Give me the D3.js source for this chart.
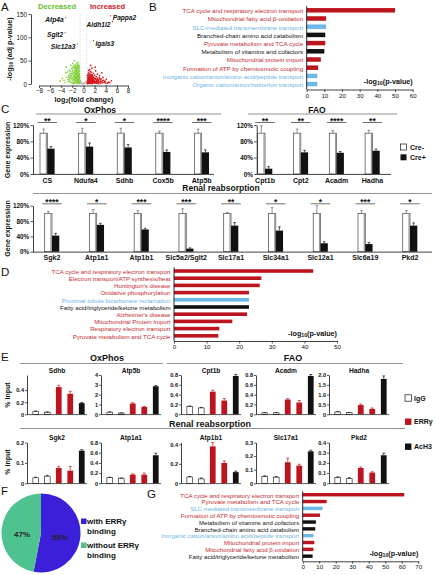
<!DOCTYPE html>
<html><head><meta charset="utf-8">
<script src="https://cdn.jsdelivr.net/npm/d3@7"></script>
<style>
body{margin:0;background:#fff}
svg{display:block}
text{font-family:"Liberation Sans",Arial,Helvetica,sans-serif}
</style></head><body>
<svg id="fig" width="435" height="575"></svg>
<script>
// ---------------- DATA ----------------
// A: volcano plot points [log2FC, -log10 adj p]
const volcanoDown = [[-0.7,2],[-0.8,4],[-0.9,6],[-1.0,3],[-1.1,8],[-0.75,10],[-0.85,12],[-0.95,15],[-1.2,5],[-1.3,11],
[-1.4,7],[-1.5,14],[-1.6,9],[-1.7,18],[-1.8,4],[-0.7,16],[-0.8,20],[-0.9,24],[-1.0,18],[-1.1,22],
[-1.2,26],[-1.3,17],[-1.4,21],[-1.5,25],[-1.6,28],[-1.9,12],[-2.0,8],[-2.1,16],[-2.2,22],[-2.4,6],
[-2.5,13],[-2.6,19],[-2.8,10],[-3.0,15],[-3.2,24],[-3.5,8],[-0.75,28],[-0.85,32],[-1.0,30],[-1.15,35],
[-1.3,31],[-1.45,38],[-1.7,34],[-1.9,29],[-2.1,33],[-2.3,40],[-2.6,30],[-1.05,42],[-0.9,38],[-1.25,45],
[-0.72,6],[-0.78,1],[-0.88,9],[-0.98,13],[-1.08,1.5],[-1.18,3],[-1.35,2],[-1.55,4],[-1.75,1],[-2.0,2],
[-0.7,13],[-0.82,17],[-0.92,21],[-1.02,25],[-1.12,12],[-1.22,16],[-1.32,20],[-1.42,24],[-1.62,13],[-1.82,23],
[-2.2,3],[-2.7,5],[-3.3,3],[-3.8,12],[-4.2,6],[-2.9,26],[-2.4,28],[-1.95,44],[-3.1,36],[-1.6,50],
[-0.74,22],[-0.84,26],[-0.94,30],[-1.04,34],[-1.14,27],[-1.24,33],[-1.34,36],[-1.5,41],[-0.8,36],[-0.95,46],
[-0.73,4],[-0.83,7],[-0.93,3],[-1.03,9],[-1.13,5],[-1.23,10],[-1.33,6],[-1.43,12],[-1.53,8],[-1.63,3],
[-0.76,19],[-0.86,15],[-0.96,19],[-1.06,21],[-1.16,19],[-1.26,23],[-1.36,27],[-1.46,30],[-1.56,22],[-1.66,25],
[-1.76,10],[-1.86,16],[-1.96,21],[-2.06,26],[-2.16,11],[-2.26,18],[-2.36,14],[-2.46,23],[-2.56,9],[-2.66,15],
[-0.71,10],[-0.81,13],[-0.91,11],[-1.01,15],[-1.11,17],[-1.21,13],[-1.31,14],[-1.41,16],[-1.51,19],[-1.61,17],
[-0.79,40],[-0.89,34],[-0.99,39],[-1.09,37],[-1.19,40],[-1.29,29],[-1.39,33],[-1.59,36],[-1.79,39],[-1.99,35]];
const volcanoUp = [[0.7,1],[0.8,3],[0.9,5],[1.0,2],[1.1,7],[1.2,4],[1.3,9],[1.4,6],[1.5,3],[1.6,11],
[0.75,8],[0.85,12],[0.95,14],[1.05,10],[1.15,13],[1.25,16],[1.35,12],[1.45,15],[1.55,8],[1.65,5],
[1.7,2],[1.8,9],[1.9,13],[2.0,6],[2.1,3],[2.2,10],[2.3,16],[2.4,7],[2.5,12],[2.6,4],
[2.7,9],[2.8,14],[3.0,6],[3.2,11],[3.4,3],[3.6,8],[3.8,5],[4.1,10],[4.5,4],[5.0,7],
[0.72,18],[0.82,21],[0.92,24],[1.02,19],[1.12,22],[1.22,27],[1.32,20],[1.42,25],[1.6,18],[1.8,23],
[2.0,19],[2.2,28],[2.5,21],[2.9,18],[3.3,24],[1.1,31],[1.5,34],[0.9,29],[2.1,36],[1.3,40],
[0.7,5],[0.78,11],[0.88,1.5],[0.98,7],[1.08,4],[1.18,1],[1.28,6],[1.38,2],[1.48,10],[1.58,1],
[1.75,14],[1.95,4],[2.15,12],[2.35,2],[2.55,8],[2.75,1],[2.95,11],[3.1,2],[3.5,14],[4.0,2],
[0.76,14],[0.86,9],[0.96,17],[1.06,15],[1.16,18],[1.26,11],[1.36,14],[1.46,18],[1.56,20],[1.7,16],
[0.73,3],[0.83,6],[0.93,2],[1.03,5],[1.13,2.5],[1.23,7],[1.33,3.5],[1.43,8],[1.53,5],[1.63,7],
[1.73,4],[1.83,6],[1.93,8],[2.03,2],[2.13,5],[2.23,3],[2.33,6],[2.43,1.5],[2.53,5],[2.63,7],
[0.77,6],[0.87,4],[0.97,10],[1.07,12],[1.17,9],[1.27,13],[1.37,10],[1.47,5],[1.57,13],[1.67,9],
[2.8,4],[3.0,9],[3.2,5],[3.4,7],[3.7,3],[3.9,6],[4.3,2],[4.7,3],[1.85,11],[2.45,10]];
const volcanoNS = [[-0.5,1],[-0.3,2],[-0.1,0.5],[0.1,1.5],[0.3,0.8],[0.5,2.5],[-0.6,3],[0.6,4],[-0.4,5],[0.2,3],[0,1],[-0.2,0.3],[0.4,6],[-0.55,7]];
const volcanoGenes = ["Atp4a","Sglt2","Slc12a3","Aldh1l2","Pappa2","Igals3"];
const volcanoGeneFC = [-3.2,-3.3,-1.1,5.2,4.9,1.8];
const volcanoGeneP = [142,110,86,134,146,93];

// B: pathway enrichment
const bTerms = ["TCA cycle and respiratory electron transport","Mitochondrial fatty acid β-oxidation","SLC-mediated transmembrane transport","Branched-chain amino acid catabolism","Pyruvate metabolism and TCA cycle","Metabolism of vitamins and cofactors","Mitochondrial protein import","Formation of ATP by chemiosmotic coupling","Inorganic cation/anion/amino acid/peptide transport","Organic cation/anion/zwitterion transport"];
const bValues = [50,11,11,10.5,10.5,10,8,6.5,6,6];
const bGroups = ["mito","mito","slc","other","mito","other","mito","mito","slc","slc"];
const bTicks = [0,10,20,30,40,50,60];

// C: gene expression (% of Cre-)
const cOxGenes = ["CS","Ndufa4","Sdhb","Cox5b","Atp5b"];
const cOxCreNeg = [100,100,100,100,100];
const cOxCrePos = [62,67,65,54,53];
const cOxErrNeg = [10,12,12,5,10];
const cOxErrPos = [5,9,7,5,6];
const cOxStars = ["**","*","*","****","***"];
const cFaoGenes = ["Cpt1b","Cpt2","Acadm","Hadha"];
const cFaoCreNeg = [100,100,100,100];
const cFaoCrePos = [13,53,52,57];
const cFaoErrNeg = [18,10,6,7];
const cFaoErrPos = [5,5,3,4];
const cFaoStars = ["**","**","****","**"];
const cRenGenes = ["Sgk2","Atp1a1","Atp1b1","Slc5a2/Sglt2","Slc17a1","Slc34a1","Slc12a1","Slc6a19","Pkd2"];
const cRenCreNeg = [100,100,100,100,100,100,100,100,100];
const cRenCrePos = [42,70,58,8,68,55,22,20,68];
const cRenErrNeg = [5,10,7,12,2,15,20,7,7];
const cRenErrPos = [6,4,3,2,8,10,4,4,7];
const cRenStars = ["****","*","***","***","**","*","*","***","*"];
const cTicks = [0,40,80,120];

// D
const dTerms = ["TCA cycle and respiratory electron transport","Electron transport/ATP synthesis/heat","Huntington's disease","Oxidative phosphorylation","Proximal tubule bicarbonate reclamation","Fatty acid/triglyceride/ketone metabolism","Alzheimer's disease","Mitochondrial Protein Import","Respiratory electron transport","Pyruvate metabolism and TCA cycle"];
const dValues = [42.7,26.8,26.3,23,23,23,22.4,17.9,13.9,13.6];
const dGroups = ["mito","mito","mito","mito","slc","other","mito","mito","mito","mito"];
const dTicks = [0,10,20,30,40,50];

// E: ChIP (% input) IgG, IgG, ERRγ, ERRγ, AcH3
const eSeries = ["IgG","IgG","ERRγ","ERRγ","AcH3"];
const eTopGenes = ["Sdhb","Atp5b","Cpt1b","Acadm","Hadha"];
const eTopValues = [[0.05,0.035,0.45,0.34,0.185],[0.22,0.13,1.1,0.75,2.85],[0.16,0.13,0.46,0.28,0.78],[0.03,0.03,0.30,0.24,0.78],[0.12,0.08,0.47,0.27,1.8]];
const eTopErrors = [[0.005,0.005,0.03,0.04,0.01],[0.03,0.02,0.08,0.05,0.08],[0.01,0.01,0.03,0.04,0.03],[0.005,0.005,0.02,0.04,0.03],[0.02,0.01,0.05,0.05,0.15]];
const eTopTicks = [[0,0.2,0.4],[0,1,2,3,4],[0,0.2,0.4,0.6,0.8],[0,0.2,0.4,0.6,0.8],[0,0.5,1.0,1.5,2.0]];
const eTopTickLabels = [["0","0.2","0.4"],["0","1","2","3","4"],["0","0.2","0.4","0.6","0.8"],["0","0.2","0.4","0.6","0.8"],["0","0.5","1.0","1.5","2.0"]];
const eTopMax = [0.65,4,0.8,0.8,2.0];
const eBotGenes = ["Sgk2","Atp1a1","Atp1b1","Slc17a1","Pkd2"];
const eBotValues = [[0.027,0.035,0.075,0.062,0.16],[0.11,0.10,0.17,0.17,0.55],[0.065,0.045,0.38,0.21,0.115],[0.05,0.045,0.155,0.13,0.235],[0.055,0.045,0.15,0.105,0.275]];
const eBotErrors = [[0.003,0.004,0.008,0.02,0.005],[0.01,0.005,0.015,0.03,0.04],[0.005,0.01,0.04,0.02,0.01],[0.005,0.004,0.03,0.01,0.008],[0.008,0.01,0.01,0.008,0.02]];
const eBotTicks = [[0,0.1,0.2],[0,0.2,0.4,0.6,0.8],[0,0.2,0.4],[0,0.1,0.2,0.3],[0,0.1,0.2,0.3,0.4]];
const eBotTickLabels = [["0","0.1","0.2"],["0","0.2","0.4","0.6","0.8"],["0","0.2","0.4"],["0","0.1","0.2","0.3"],["0","0.1","0.2","0.3","0.4"]];
const eBotMax = [0.2,0.8,0.42,0.3,0.4];

// F
const fLabels = ["with ERRγ binding","without ERRγ binding"];
const fValues = [53,47];

// G
const gTerms = ["TCA cycle and respiratory electron transport","Pyruvate metabolism and TCA cycle","SLC-mediated transmembrane transport","Formation of ATP by chemiosmotic coupling","Metabolism of vitamins and cofactors","Branched-chain amino acid catabolism","Inorganic cation/anion/amino acid/peptide transport","Mitochondrial protein import","Mitochondrial fatty acid β-oxidation","Fatty acid/triglyceride/ketone metabolism"];
const gValues = [61.5,14.5,12,10.5,8,7.6,6.5,7,6.5,6];
const gGroups = ["mito","mito","slc","mito","other","other","slc","mito","mito","other"];
const gTicks = [0,10,20,30,40,50,60,70];

// ---------------- STYLE ----------------
const RED = "#bd1520", REDTXT = "#c42b31", BLUE = "#6ab9ea", BLUETXT = "#6cb6e4";
const barCol = {mito: RED, slc: BLUE, other: "#111"};
const txtCol = {mito: REDTXT, slc: BLUETXT, other: "#111"};
const svg = d3.select("#fig");

function T(g, x, y, s, o = {}) {
  const t = g.append("text").attr("x", x).attr("y", y).text(s)
    .attr("font-size", o.size || 7).attr("font-weight", o.bold ? "bold" : "normal")
    .attr("text-anchor", o.anchor || "start").attr("dominant-baseline", "central")
    .attr("fill", o.fill || "#111");
  if (o.italic) t.attr("font-style", "italic");
  if (o.rotate) t.attr("transform", `rotate(${o.rotate},${x},${y})`);
  return t;
}
function subLabel(g, x, y, pre, sub, post, o = {}) {
  const size = o.size || 7;
  const t = g.append("text").attr("x", x).attr("y", y)
    .attr("font-size", size).attr("font-weight", "bold")
    .attr("text-anchor", o.anchor || "start").attr("dominant-baseline", "central").attr("fill", "#111");
  if (o.rotate) t.attr("transform", `rotate(${o.rotate},${x},${y})`);
  t.append("tspan").text(pre);
  t.append("tspan").text(sub).attr("font-size", size * 0.72).attr("dy", size * 0.3);
  t.append("tspan").text(post).attr("dy", -size * 0.3);
  return t;
}
function styleAxis(g, size, bold) {
  g.selectAll("text").attr("font-size", size).attr("font-weight", bold ? "bold" : "normal")
    .attr("fill", "#111").attr("font-family", '"Liberation Sans",Arial,sans-serif');
  g.selectAll("line").attr("stroke", "#111").attr("stroke-width", 0.7);
  g.selectAll("path").attr("stroke", "#111").attr("stroke-width", 0.8);
}
function letter(x, y, s) { T(svg, x, y, s, {size: 11.5}); }

// ---------------- A: volcano ----------------
(function () {
  const g = svg.append("g");
  letter(1, 7, "A");
  const x = d3.scaleLinear().domain([-8, 8]).range([39, 128]);
  const y = d3.scaleLinear().domain([0, 150]).range([84, 14]);
  T(g, 57, 6.5, "Decreased", {size: 7.5, bold: true, anchor: "middle", fill: "#62bf2c"});
  T(g, 107.5, 6.5, "Increased", {size: 7.5, bold: true, anchor: "middle", fill: "#cf2027"});
  [-0.6, 0.6].forEach(v => g.append("line").attr("x1", x(v)).attr("x2", x(v)).attr("y1", y(0)).attr("y2", y(150))
    .attr("stroke", "#c8c8c8").attr("stroke-width", 0.6).attr("stroke-dasharray", "1,1"));
  g.selectAll(".ns").data(volcanoNS).join("circle").attr("cx", d => x(d[0])).attr("cy", d => y(d[1])).attr("r", 0.7).attr("fill", "#aaa");
  g.selectAll(".dn").data(volcanoDown).join("circle").attr("cx", d => x(d[0])).attr("cy", d => y(d[1])).attr("r", 0.85).attr("fill", "#86d23f");
  g.selectAll(".up").data(volcanoUp).join("circle").attr("cx", d => x(d[0])).attr("cy", d => y(d[1])).attr("r", 0.85).attr("fill", "#d7191c");
  const anchors = ["end", "end", "end", "end", "start", "start"];
  const dys = [2, 2, 3, 3, 2, 3];
  volcanoGenes.forEach((gn, i) => {
    const px = x(volcanoGeneFC[i]), py = y(volcanoGeneP[i]);
    g.append("circle").attr("cx", px).attr("cy", py).attr("r", 0.7).attr("fill", i < 3 ? "#4a9a20" : "#b01218");
    T(g, px + (anchors[i] === "end" ? -2 : 2), py + dys[i], gn, {size: 6.6, bold: true, italic: true, anchor: anchors[i]});
  });
  const ya = g.append("g").attr("transform", "translate(31,0)")
    .call(d3.axisLeft(y).tickValues([0, 50, 100, 150]).tickSize(2.5).tickPadding(1.5).tickSizeOuter(0));
  styleAxis(ya, 6.3, false);
  const xa = g.append("g").attr("transform", "translate(0,85.5)")
    .call(d3.axisBottom(x).tickValues([-8, -6, -4, -2, 0, 2, 4, 6, 8]).tickSize(2.5).tickPadding(1).tickSizeOuter(0));
  styleAxis(xa, 6.3, false);
  subLabel(g, 84, 99, "log", "2", "(fold change)", {size: 7.2, anchor: "middle"});
  subLabel(g, 9, 49, "-log", "10", " (adj p-value)", {size: 7.2, anchor: "middle", rotate: -90});
})();

// ---------------- horizontal bar panels (B, D, G) ----------------
function hbar(terms, values, groups, ticks, L) {
  const g = svg.append("g");
  const x = d3.scaleLinear().domain([0, ticks[ticks.length - 1]]).range([L.x0, L.x1]);
  const y = d3.scaleBand().domain(terms).range([L.top, L.top + L.step * terms.length]).paddingInner(L.pad).paddingOuter(L.pad / 2);
  g.selectAll("rect").data(terms).join("rect")
    .attr("x", x(0)).attr("y", d => y(d)).attr("height", y.bandwidth())
    .attr("width", (d, i) => x(values[i]) - x(0)).attr("fill", (d, i) => barCol[groups[i]]);
  terms.forEach((t, i) => T(g, L.x0 - 3.5, y(t) + y.bandwidth() / 2 + 0.3, t, {size: L.fs, anchor: "end", fill: txtCol[groups[i]]}));
  g.append("line").attr("x1", x(0)).attr("x2", x(0)).attr("y1", L.top).attr("y2", L.axisY).attr("stroke", "#111").attr("stroke-width", 0.9);
  const xa = g.append("g").attr("transform", `translate(0,${L.axisY})`)
    .call(d3.axisBottom(x).tickValues(ticks).tickSize(2.5).tickPadding(1.2).tickSizeOuter(0));
  styleAxis(xa, 6.2, false);
  subLabel(g, L.x1, L.labY, "-log", "10", "(p-value)", {size: 7.2, anchor: "end"});
}
letter(149, 7, "B");
hbar(bTerms, bValues, bGroups, bTicks, {x0: 306.7, x1: 412.7, top: 6.2, step: 8.2, pad: 0.45, axisY: 89.5, fs: 6.2, labY: 81});
letter(1, 272, "D");
hbar(dTerms, dValues, dGroups, dTicks, {x0: 174, x1: 337, top: 267.4, step: 7.2, pad: 0.5, axisY: 341, fs: 6.1, labY: 332.7});
letter(147, 494, "G");
hbar(gTerms, gValues, gGroups, gTicks, {x0: 302.7, x1: 418.3, top: 491.3, step: 6.83, pad: 0.5, axisY: 561.3, fs: 6.1, labY: 553.3});

// ---------------- C: gene expression ----------------
letter(1, 109, "C");
function creGroup(genes, neg, pos, eNeg, ePos, stars, L) {
  const g = svg.append("g");
  const x = d3.scaleBand().domain(genes).range(L.band);
  const y = d3.scaleLinear().domain([0, 120]).range(L.yr);
  const bw = 7.3;
  genes.forEach((gn, i) => {
    const cx = x(gn) + x.bandwidth() / 2;
    g.append("rect").attr("x", cx - bw).attr("y", y(neg[i])).attr("width", bw).attr("height", y(0) - y(neg[i]))
      .attr("fill", "#fff").attr("stroke", "#444").attr("stroke-width", 0.7);
    g.append("rect").attr("x", cx - 1.6).attr("y", y(neg[i])).attr("width", 1.3).attr("height", y(0) - y(neg[i])).attr("fill", "#9a9a9a");
    g.append("rect").attr("x", cx).attr("y", y(pos[i])).attr("width", bw).attr("height", y(0) - y(pos[i])).attr("fill", "#111");
    [[cx - bw / 2, neg[i], eNeg[i], "#666"], [cx + bw / 2, pos[i], ePos[i], "#111"]].forEach(([ex, v, e, c]) => {
      g.append("line").attr("x1", ex).attr("x2", ex).attr("y1", y(v)).attr("y2", y(v + e)).attr("stroke", c).attr("stroke-width", 0.7);
      g.append("line").attr("x1", ex - 1.3).attr("x2", ex + 1.3).attr("y1", y(v + e)).attr("y2", y(v + e)).attr("stroke", c).attr("stroke-width", 0.7);
    });
    g.append("line").attr("x1", cx - bw - 2.5).attr("x2", cx + bw + 2.5).attr("y1", L.brY).attr("y2", L.brY).attr("stroke", "#111").attr("stroke-width", 0.6);
    T(g, cx, L.brY - 1.8, stars[i], {size: 8.5, bold: true, anchor: "middle"});
    T(g, cx, L.labY, gn, {size: 7, bold: true, anchor: "middle"});
  });
  const ya = g.append("g").attr("transform", `translate(${L.axisX},0)`)
    .call(d3.axisLeft(y).tickValues(cTicks).tickFormat(d => d + "%").tickSize(2.5).tickPadding(1.2).tickSizeOuter(0));
  styleAxis(ya, 6.4, true);
  g.append("line").attr("x1", L.axisX).attr("x2", L.xEnd).attr("y1", y(0) + 0.4).attr("y2", y(0) + 0.4).attr("stroke", "#111").attr("stroke-width", 0.8);
}
function section(x1, x2, yLine, label, lx, ly, size) {
  svg.append("line").attr("x1", x1).attr("x2", x2).attr("y1", yLine).attr("y2", yLine).attr("stroke", "#777").attr("stroke-width", 0.8);
  T(svg, lx, ly, label, {size: size, bold: true, anchor: "middle"});
}
section(36, 221, 114, "OxPhos", 100, 109.5, 8.5);
section(248, 397, 114, "FAO", 317, 109.5, 8.5);
creGroup(cOxGenes, cOxCreNeg, cOxCrePos, cOxErrNeg, cOxErrPos, cOxStars, {band: [28, 221], yr: [174, 125], axisX: 33, xEnd: 214, labY: 180.5, brY: 122.5});
creGroup(cFaoGenes, cFaoCreNeg, cFaoCrePos, cFaoErrNeg, cFaoErrPos, cFaoStars, {band: [247.1, 390.3], yr: [174, 125], axisX: 256.7, xEnd: 391, labY: 180.5, brY: 122.5});
section(33, 432, 193.5, "Renal reabsorption", 221, 188.3, 8.5);
creGroup(cRenGenes, cRenCreNeg, cRenCrePos, cRenErrNeg, cRenErrPos, cRenStars, {band: [29.6, 432.4], yr: [251.7, 205.7], axisX: 33, xEnd: 432, labY: 257.5, brY: 203.8});
T(svg, 7.5, 150, "Gene expression", {size: 7, bold: true, anchor: "middle", rotate: -90});
T(svg, 7.5, 228.5, "Gene expression", {size: 7, bold: true, anchor: "middle", rotate: -90});
svg.append("rect").attr("x", 400.5).attr("y", 144).attr("width", 6).attr("height", 6).attr("fill", "#fff").attr("stroke", "#111").attr("stroke-width", 0.7);
T(svg, 410, 147, "Cre-", {size: 7, bold: true});
svg.append("rect").attr("x", 400.5).attr("y", 154.3).attr("width", 6).attr("height", 6).attr("fill", "#111");
T(svg, 410, 157.3, "Cre+", {size: 7, bold: true});

// ---------------- E: ChIP ----------------
letter(1, 357, "E");
const eColX = [27, 101, 181, 256, 329];
const eFill = ["#fff", "#fff", RED, RED, "#111"];
function chip(gene, vals, errs, ticks, tickLabels, max, axisX, yZero, yTop) {
  const g = svg.append("g");
  const x = d3.scaleBand().domain(d3.range(vals.length)).range([axisX + 3, axisX + 60.5]).paddingInner(0.5).paddingOuter(0.25);
  const y = d3.scaleLinear().domain([0, max]).range([yZero, yTop]);
  vals.forEach((v, i) => {
    g.append("rect").attr("x", x(i)).attr("y", y(v)).attr("width", x.bandwidth()).attr("height", yZero - y(v))
      .attr("fill", eFill[i]).attr("stroke", i < 2 ? "#111" : "none").attr("stroke-width", 0.6);
    const cx = x(i) + x.bandwidth() / 2, col = i >= 2 && i < 4 ? RED : "#111";
    g.append("line").attr("x1", cx).attr("x2", cx).attr("y1", y(v)).attr("y2", y(v + errs[i])).attr("stroke", col).attr("stroke-width", 0.7);
    g.append("line").attr("x1", cx - 1.5).attr("x2", cx + 1.5).attr("y1", y(v + errs[i])).attr("y2", y(v + errs[i])).attr("stroke", col).attr("stroke-width", 0.7);
  });
  const ya = g.append("g").attr("transform", `translate(${axisX},0)`)
    .call(d3.axisLeft(y).tickValues(ticks).tickFormat((d, i) => tickLabels[i]).tickSize(2).tickPadding(1).tickSizeOuter(0));
  styleAxis(ya, 5.6, true);
  g.append("line").attr("x1", axisX).attr("x2", axisX + 60).attr("y1", yZero + 0.3).attr("y2", yZero + 0.3).attr("stroke", "#111").attr("stroke-width", 0.7);
  T(g, axisX + 30, yTop - 5, gene, {size: 6.6, bold: true, anchor: "middle"});
}
section(20, 163, 363.5, "OxPhos", 107, 358, 9);
section(167, 403, 363.5, "FAO", 293, 358, 9);
eTopGenes.forEach((gn, i) => chip(gn, eTopValues[i], eTopErrors[i], eTopTicks[i], eTopTickLabels[i], eTopMax[i], eColX[i], 414.3, 375));
section(20, 405, 428.5, "Renal reabsorption", 210, 424, 9);
eBotGenes.forEach((gn, i) => chip(gn, eBotValues[i], eBotErrors[i], eBotTicks[i], eBotTickLabels[i], eBotMax[i], eColX[i], 483.3, 442.5));
T(svg, 7, 395, "% input", {size: 7, bold: true, anchor: "middle", rotate: -90});
T(svg, 7, 462, "% input", {size: 7, bold: true, anchor: "middle", rotate: -90});
const eLegY = [398, 421.7, 446.7];
["IgG", "ERRγ", "AcH3"].forEach((s, i) => {
  svg.append("rect").attr("x", 405).attr("y", eLegY[i] - 3.2).attr("width", 6.4).attr("height", 6.4)
    .attr("fill", ["#fff", RED, "#111"][i]).attr("stroke", i === 0 ? "#111" : "none").attr("stroke-width", 0.7);
  T(svg, 414, eLegY[i], s, {size: 7, bold: true});
});

// ---------------- F: pie ----------------
letter(1, 491, "F");
(function () {
  const g = svg.append("g").attr("transform", "translate(41,533)");
  const pie = d3.pie().sort(null)(fValues);
  const arc = d3.arc().innerRadius(0).outerRadius(39.5);
  const cols = ["#3c1fd8", "#4fc38f"];
  g.selectAll("path").data(pie).join("path").attr("d", arc).attr("fill", (d, i) => cols[i]);
  const lab = d3.arc().innerRadius(19).outerRadius(19);
  pie.forEach((d, i) => {
    const c = lab.centroid(d);
    T(g, c[0], c[1] + 3, fValues[i] + "%", {size: 8, bold: true, anchor: "middle", fill: "#222"});
  });
  const ly = [521.5, 545.5];
  fLabels.forEach((s, i) => {
    svg.append("rect").attr("x", 81).attr("y", ly[i] - 3).attr("width", 5.5).attr("height", 5.5).attr("fill", cols[i]);
    const words = s.split(" binding");
    T(svg, 87, ly[i], words[0], {size: 8, bold: true});
    T(svg, 87, ly[i] + 10.3, "binding", {size: 8, bold: true});
  });
})();
</script>
</body></html>
